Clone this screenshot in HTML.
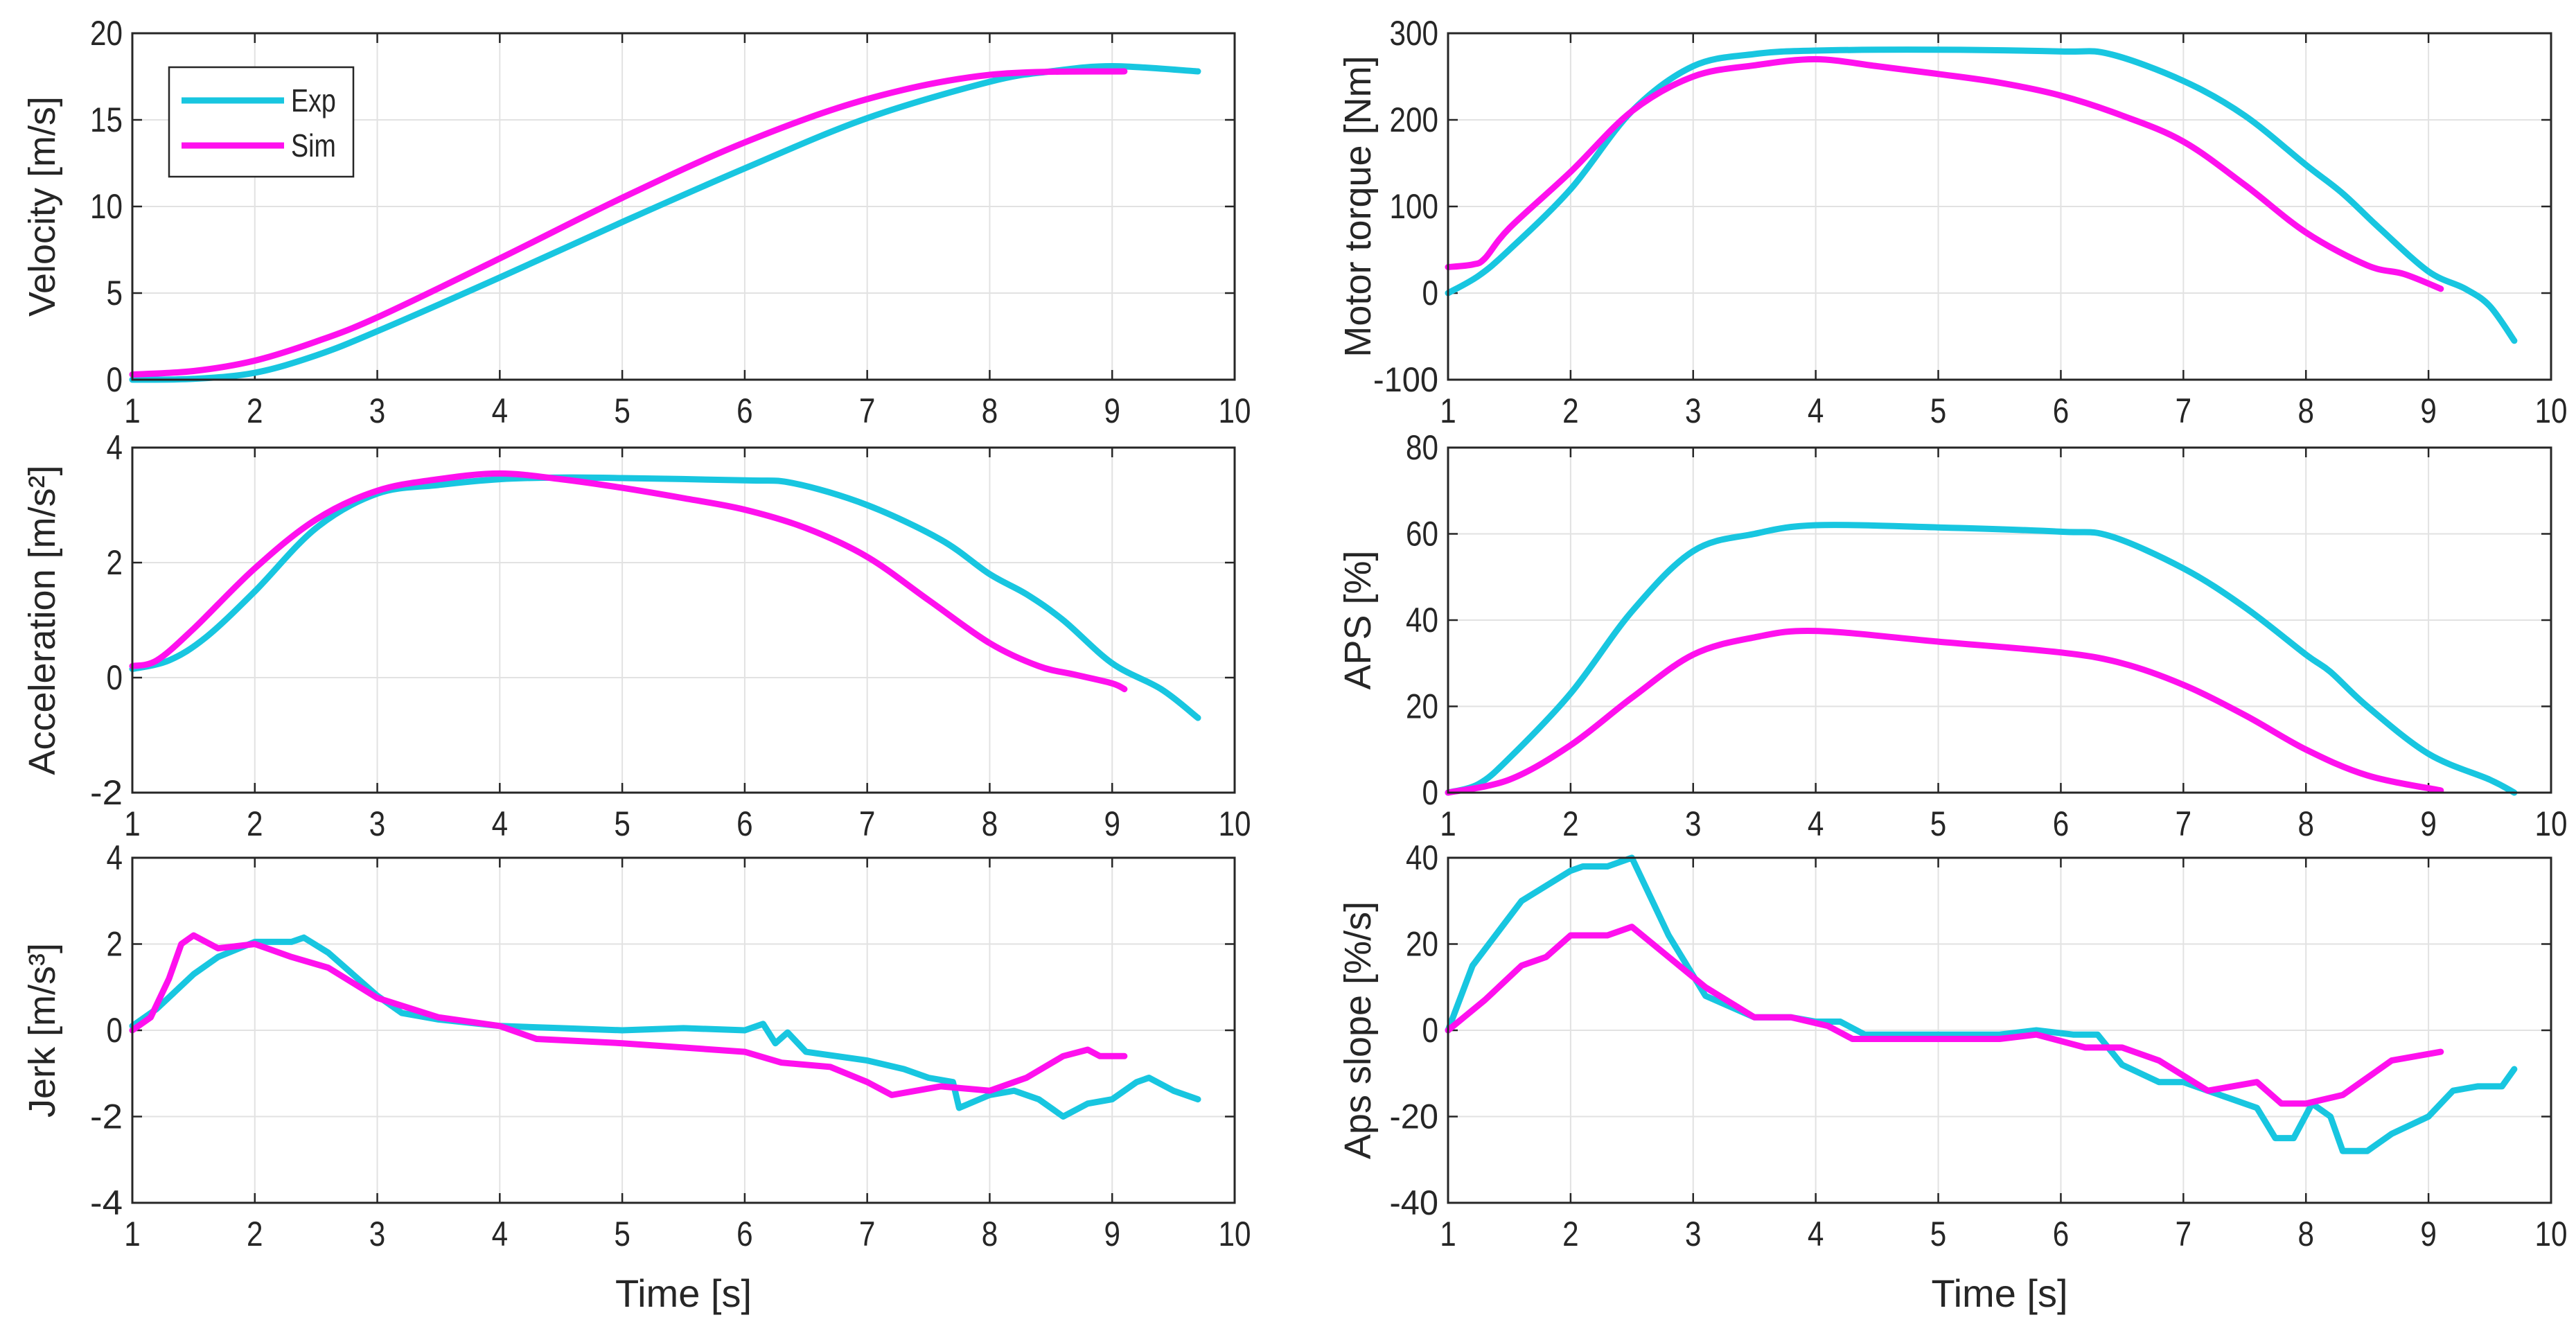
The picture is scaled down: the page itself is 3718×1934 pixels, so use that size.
<!DOCTYPE html>
<html><head><meta charset="utf-8"><style>
html,body{margin:0;padding:0;background:#fff;}
svg{display:block;}
text{font-family:"Liberation Sans",sans-serif;fill:#262626;}
</style></head>
<body>
<svg id="fig" width="3718" height="1934" viewBox="0 0 3718 1934" xmlns="http://www.w3.org/2000/svg"></svg>
<script>
const velT_exp=[1,1.5,2,2.5,3,4,5,6,7,8,8.5,9,9.7];
const velV_exp=[0,0.05,0.4,1.4,2.8,5.9,9.1,12.2,15.1,17.2,17.8,18.1,17.8];
const velT_sim=[1,1.5,2,2.5,3,4,5,6,7,8,9.1];
const velV_sim=[0.3,0.5,1.1,2.2,3.6,7.0,10.5,13.7,16.2,17.6,17.8];
const trqT_exp=[1,1.25,1.5,2,2.5,3,3.5,4,5,6,6.4,7,7.5,8,8.3,8.6,9,9.3,9.5,9.7];
const trqV_exp=[0,20,50,120,210,262,276,280,281,279,276,245,205,148,115,75,25,5,-15,-55];
const trqT_sim=[1,1.2,1.3,1.5,2,2.5,3,3.5,4,4.5,5,5.5,6,6.5,7,7.5,8,8.5,8.8,9.1];
const trqV_sim=[30,33,40,75,140,210,250,263,270,262,253,243,228,205,175,125,70,32,22,5];
const accT_exp=[1,1.3,1.6,2,2.5,3,3.5,4,4.5,5,6,6.4,7,7.6,8,8.3,8.6,9,9.4,9.7];
const accV_exp=[0.15,0.3,0.7,1.5,2.6,3.2,3.35,3.45,3.48,3.47,3.43,3.38,3.0,2.4,1.8,1.45,1.0,0.25,-0.2,-0.7];
const accT_sim=[1,1.2,1.5,2,2.5,3,3.5,4,4.5,5,5.5,6,6.5,7,7.5,8,8.4,8.7,9,9.1];
const accV_sim=[0.2,0.3,0.85,1.9,2.75,3.25,3.45,3.55,3.45,3.3,3.12,2.92,2.6,2.1,1.35,0.6,0.2,0.05,-0.1,-0.2];
const apsT_exp=[1,1.25,1.5,2,2.5,3,3.5,4,5,6,6.4,7,7.5,8,8.2,8.5,9,9.5,9.7];
const apsV_exp=[0,2,8,23,42,56,60,62,61.5,60.5,59.5,52,43,32,28,20,9,3,0];
const apsT_sim=[1,1.5,2,2.5,3,3.5,4,5,6,6.5,7,7.5,8,8.5,9.1];
const apsV_sim=[0,3,11,22,32,36,37.5,35,32.5,30,25,18,10,4,0.5];
const jrkT_exp=[1,1.2,1.5,1.7,2,2.3,2.4,2.6,2.8,3,3.2,3.5,4,4.5,5,5.5,6,6.15,6.25,6.35,6.5,7,7.3,7.5,7.7,7.75,8,8.2,8.4,8.6,8.8,9,9.2,9.3,9.5,9.7];
const jrkV_exp=[0.1,0.5,1.3,1.7,2.05,2.05,2.15,1.8,1.3,0.8,0.4,0.25,0.1,0.05,0,0.05,0,0.15,-0.3,-0.05,-0.5,-0.7,-0.9,-1.1,-1.2,-1.8,-1.5,-1.4,-1.6,-2.0,-1.7,-1.6,-1.2,-1.1,-1.4,-1.6];
const jrkT_sim=[1,1.15,1.3,1.4,1.5,1.7,2,2.3,2.6,3,3.5,4,4.3,5,5.5,6,6.3,6.7,7,7.2,7.6,8,8.3,8.6,8.8,8.9,9.1];
const jrkV_sim=[0,0.3,1.2,2.0,2.2,1.9,2.0,1.7,1.45,0.75,0.3,0.1,-0.2,-0.3,-0.4,-0.5,-0.75,-0.85,-1.2,-1.5,-1.3,-1.4,-1.1,-0.6,-0.45,-0.6,-0.6];
const slpT_exp=[1,1.2,1.6,2,2.1,2.3,2.5,2.8,3.1,3.5,3.8,4,4.2,4.4,5,5.5,5.8,6.1,6.3,6.5,6.8,7,7.2,7.6,7.75,7.9,8.05,8.2,8.3,8.5,8.7,9,9.2,9.4,9.6,9.7];
const slpV_exp=[0,15,30,37,38,38,40,22,8,3,3,2,2,-1,-1,-1,0,-1,-1,-8,-12,-12,-14,-18,-25,-25,-17,-20,-28,-28,-24,-20,-14,-13,-13,-9];
const slpT_sim=[1,1.3,1.6,1.8,2,2.3,2.5,2.8,3.1,3.5,3.8,4.1,4.3,5,5.5,5.8,6.2,6.5,6.8,7.2,7.4,7.6,7.8,8,8.3,8.7,8.9,9.1];
const slpV_sim=[0,7,15,17,22,22,24,17,10,3,3,1,-2,-2,-2,-1,-4,-4,-7,-14,-13,-12,-17,-17,-15,-7,-6,-5];
const xTicks=[1,2,3,4,5,6,7,8,9,10];

const NS="http://www.w3.org/2000/svg";
const svg=document.getElementById('fig');
const CY="#18c6e0", MG="#ff10ee";
function mk(tag,attrs,parent){const e=document.createElementNS(NS,tag);for(const k in attrs)e.setAttribute(k,attrs[k]);(parent||svg).appendChild(e);return e;}
function txt(s,x,y,size,anchor,parent,narrow){const t=mk('text',{x:x,y:y,'font-size':size,'text-anchor':anchor||'middle'},parent);t.textContent=s;if(narrow){t.setAttribute('textLength',String(s).length*size*0.47);t.setAttribute('lengthAdjust','spacingAndGlyphs');}return t;}
function smoothPath(P){let d='M'+P[0][0].toFixed(1)+','+P[0][1].toFixed(1);
  for(let i=0;i<P.length-1;i++){const p0=P[Math.max(0,i-1)],p1=P[i],p2=P[i+1],p3=P[Math.min(P.length-1,i+2)];
    const c1x=p1[0]+(p2[0]-p0[0])/6,c1y=p1[1]+(p2[1]-p0[1])/6,c2x=p2[0]-(p3[0]-p1[0])/6,c2y=p2[1]-(p3[1]-p1[1])/6;
    d+=' C'+c1x.toFixed(1)+','+c1y.toFixed(1)+' '+c2x.toFixed(1)+','+c2y.toFixed(1)+' '+p2[0].toFixed(1)+','+p2[1].toFixed(1);}
  return d;}

function panel(name,L,R,T,B,ymin,ymax,yticks,ylabel,series,showX,smooth){
  const g=mk('g',{});
  
  
  const sx=v=>L+(v-1)/9*(R-L);
  const sy=v=>B-(v-ymin)/(ymax-ymin)*(B-T);
  mk('rect',{x:L,y:T,width:R-L,height:B-T,fill:'#fff'},g);
  const grid=mk('g',{},g);
  
  
  xTicks.forEach(t=>{const x=sx(t);mk('line',{x1:x,x2:x,y1:T,y2:B,stroke:'#e2e2e2','stroke-width':2},grid);
    mk('line',{x1:x,x2:x,y1:B,y2:B-14,stroke:'#262626','stroke-width':2.5},g);mk('line',{x1:x,x2:x,y1:T,y2:T+14,stroke:'#262626','stroke-width':2.5},g);
    const lb=txt(t,x,B+62,50,'middle',g,true);});
  yticks.forEach(t=>{const y=sy(t);mk('line',{x1:L,x2:R,y1:y,y2:y,stroke:'#e2e2e2','stroke-width':2},grid);
    mk('line',{x1:L,x2:L+14,y1:y,y2:y,stroke:'#262626','stroke-width':2.5},g);mk('line',{x1:R,x2:R-14,y1:y,y2:y,stroke:'#262626','stroke-width':2.5},g);
    const lb=txt(t,L-14,y+17,50,'end',g,true);});
  series.forEach(s=>{
    const P=s.t.map((t,i)=>[sx(t),sy(s.v[i])]);
    const d=smooth?smoothPath(P):P.map((p,i)=>(i?'L':'M')+p[0].toFixed(1)+','+p[1].toFixed(1)).join(' ');
    const p=mk('path',{d:d,fill:'none',stroke:s.c,'stroke-width':9,'stroke-linejoin':'round','stroke-linecap':'round'},g);
    
    
  });
  mk('rect',{x:L,y:T,width:R-L,height:B-T,fill:'none',stroke:'#262626','stroke-width':3},g);
  const yl=txt(ylabel,0,0,54,'middle',g);
  yl.setAttribute('font-weight','500');
  yl.setAttribute('transform','translate('+(L-112)+','+((T+B)/2)+') rotate(-90)');
  
  
  if(showX){const xl=txt('Time [s]',(L+R)/2,B+150,56,'middle',g);}
  return {sx,sy,g};
}
const LL=191,LR=1782,RL=2090,RR=3682;
const rows=[[48,548],[646,1144],[1238,1736]];
panel('velocity-panel',LL,LR,rows[0][0],rows[0][1],0,20,[0,5,10,15,20],'Velocity [m/s]',[{t:velT_exp,v:velV_exp,c:CY,n:'velocity-exp-line'},{t:velT_sim,v:velV_sim,c:MG,n:'velocity-sim-line'}],false,true);
panel('torque-panel',RL,RR,rows[0][0],rows[0][1],-100,300,[-100,0,100,200,300],'Motor torque [Nm]',[{t:trqT_exp,v:trqV_exp,c:CY,n:'torque-exp-line'},{t:trqT_sim,v:trqV_sim,c:MG,n:'torque-sim-line'}],false,true);
panel('acceleration-panel',LL,LR,rows[1][0],rows[1][1],-2,4,[-2,0,2,4],'Acceleration [m/s²]',[{t:accT_exp,v:accV_exp,c:CY,n:'acceleration-exp-line'},{t:accT_sim,v:accV_sim,c:MG,n:'acceleration-sim-line'}],false,true);
panel('aps-panel',RL,RR,rows[1][0],rows[1][1],0,80,[0,20,40,60,80],'APS [%]',[{t:apsT_exp,v:apsV_exp,c:CY,n:'aps-exp-line'},{t:apsT_sim,v:apsV_sim,c:MG,n:'aps-sim-line'}],false,true);
panel('jerk-panel',LL,LR,rows[2][0],rows[2][1],-4,4,[-4,-2,0,2,4],'Jerk [m/s³]',[{t:jrkT_exp,v:jrkV_exp,c:CY,n:'jerk-exp-line'},{t:jrkT_sim,v:jrkV_sim,c:MG,n:'jerk-sim-line'}],true,false);
panel('aps-slope-panel',RL,RR,rows[2][0],rows[2][1],-40,40,[-40,-20,0,20,40],'Aps slope [%/s]',[{t:slpT_exp,v:slpV_exp,c:CY,n:'aps-slope-exp-line'},{t:slpT_sim,v:slpV_sim,c:MG,n:'aps-slope-sim-line'}],true,false);

const lg=mk('g',{});


mk('rect',{x:244,y:97,width:266,height:158,fill:'#fff',stroke:'#262626','stroke-width':2.5},lg);
mk('line',{x1:262,x2:410,y1:145,y2:145,stroke:CY,'stroke-width':9},lg);
mk('line',{x1:262,x2:410,y1:210,y2:210,stroke:MG,'stroke-width':9},lg);
const e1=txt('Exp',420,161,46,'start',lg,true);


const e2=txt('Sim',420,226,46,'start',lg,true);


</script>
</body></html>
